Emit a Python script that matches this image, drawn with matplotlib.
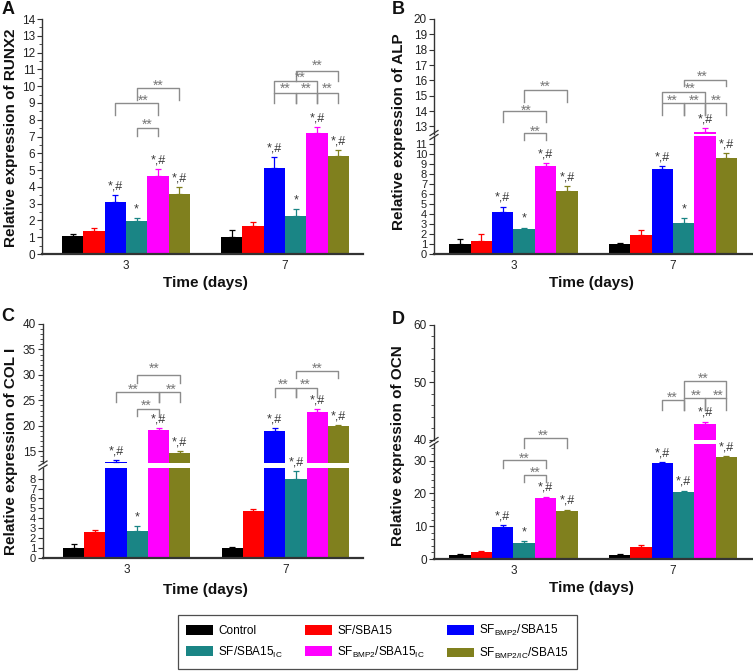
import matplotlib
matplotlib.use('Agg')
import matplotlib.pyplot as plt
from matplotlib.patches import Patch
from matplotlib.lines import Line2D
from matplotlib.ticker import MultipleLocator, FixedLocator

plt.rcParams['font.family'] = ['Liberation Sans', 'DejaVu Sans']
plt.rcParams['mathtext.fontset'] = 'custom'
plt.rcParams['mathtext.rm'] = 'Liberation Sans'
plt.rcParams['mathtext.it'] = 'Liberation Sans'

W, H = 753, 671
fig = plt.figure(figsize=(W / 100, H / 100), dpi=100)

# ---------------- data ----------------
groups = ['3', '7']
series = ['Control', 'SF/SBA15', r'SF$_{\mathregular{BMP2}}$/SBA15',
          r'SF/SBA15$_{\mathregular{IC}}$',
          r'SF$_{\mathregular{BMP2}}$/SBA15$_{\mathregular{IC}}$',
          r'SF$_{\mathregular{BMP2/IC}}$/SBA15']
colors = ['#000000', '#ff0000', '#0000ff', '#1a8585', '#ff00ff', '#80801e']

runx2_day3 = [1.05, 1.37, 3.08, 1.99, 4.67, 3.56]
runx2_err3 = [0.12, 0.16, 0.44, 0.14, 0.38, 0.42]
runx2_day7 = [1.03, 1.67, 5.15, 2.29, 7.22, 5.86]
runx2_err7 = [0.40, 0.26, 0.62, 0.37, 0.33, 0.34]
runx2_sig3 = ['', '', '*,#', '*', '*,#', '*,#']
runx2_sig7 = ['', '', '*,#', '*', '*,#', '*,#']

alp_day3 = [1.0, 1.33, 4.17, 2.47, 8.85, 6.3]
alp_err3 = [0.5, 0.67, 0.56, 0.16, 0.25, 0.5]
alp_day7 = [1.0, 1.9, 8.5, 3.07, 12.6, 9.57]
alp_err7 = [0.1, 0.5, 0.3, 0.5, 0.3, 0.55]
alp_sig3 = ['', '', '*,#', '*', '*,#', '*,#']
alp_sig7 = ['', '', '*,#', '*', '*,#', '*,#']

col_day3 = [1.0, 2.6, 12.9, 2.7, 19.1, 14.6]
col_err3 = [0.4, 0.25, 0.4, 0.5, 0.5, 0.4]
col_day7 = [1.0, 4.7, 19.05, 8.0, 22.7, 19.9]
col_err7 = [0.1, 0.24, 0.5, 0.74, 0.6, 0.3]
col_sig3 = ['', '', '*,#', '*', '*,#', '*,#']
col_sig7 = ['', '', '*,#', '*,#', '*,#', '*,#']

ocn_day3 = [1.3, 2.0, 9.9, 5.0, 18.5, 14.5]
ocn_err3 = [0.3, 0.4, 0.4, 0.4, 0.5, 0.6]
ocn_day7 = [1.2, 3.8, 29.2, 20.5, 42.8, 31.0]
ocn_err7 = [0.2, 0.5, 0.4, 0.4, 0.4, 0.3]
ocn_sig3 = ['', '', '*,#', '*', '*,#', '*,#']
ocn_sig7 = ['', '', '*,#', '*,#', '*,#', '*,#']

# significance brackets: (group, bar_a, bar_b, y_line, y_leg_end)
runx2_brk = [(0, 3, 4, 7.5, 7.05), (0, 2, 4, 8.99, 8.3), (0, 3, 5, 9.88, 9.2),
             (1, 3, 5, 10.93, 10.3), (1, 2, 4, 10.28, 9.6),
             (1, 2, 3, 9.58, 9.0), (1, 3, 4, 9.58, 9.0), (1, 4, 5, 9.58, 9.0)]
runx2_txt = [(0, 3.5, 7.95), (0, 3.3, 9.38), (0, 4.0, 10.28),
             (1, 4.0, 11.47), (1, 3.2, 10.73), (1, 2.5, 10.08), (1, 3.5, 10.08), (1, 4.5, 10.08)]

alp_brk = [(0, 3, 4, 12.55, 12.13), (0, 2, 4, 13.97, 13.3), (0, 3, 5, 15.38, 14.6),
           (1, 3, 5, 15.99, 15.6), (1, 2, 4, 15.27, 14.6),
           (1, 2, 3, 14.5, 13.75), (1, 3, 4, 14.5, 13.75), (1, 4, 5, 14.5, 13.75)]
alp_txt = [(0, 3.5, 12.9), (0, 3.1, 14.3), (0, 4.0, 15.82),
           (1, 3.85, 16.5), (1, 3.3, 15.75), (1, 2.45, 14.97), (1, 3.5, 14.97), (1, 4.5, 14.97)]

col_brk = [(0, 3, 5, 30.0, 28.4), (0, 2, 4, 26.6, 24.6), (0, 4, 5, 26.6, 24.6),
           (0, 3, 4, 23.3, 22.0),
           (1, 3, 5, 30.8, 29.4), (1, 2, 3, 27.5, 25.6), (1, 3, 4, 27.5, 25.6)]
col_txt = [(0, 3.8, 32.0), (0, 2.8, 27.9), (0, 4.6, 27.9), (0, 3.4, 24.7),
           (1, 4.0, 32.0), (1, 2.4, 28.9), (1, 3.45, 28.9)]

ocn_brk = [(0, 3, 5, 40.4, 38.6), (0, 2, 4, 30.2, 27.7), (0, 3, 4, 25.6, 23.6),
           (1, 3, 5, 50.3, 47.3), (1, 2, 3, 47.0, 45.3), (1, 3, 4, 47.3, 45.3), (1, 4, 5, 47.3, 45.3)]
ocn_txt = [(0, 3.9, 41.4), (0, 3.0, 32.0), (0, 3.5, 27.5),
           (1, 3.9, 51.3), (1, 2.45, 48.1), (1, 3.6, 48.4), (1, 4.6, 48.4)]

# ---------------- helpers ----------------
BW = 0.134
GRAY = '#8c8c8c'
SPINE = '#333333'


def bar_x(g, i):
    return g + (i - 2.5) * BW


def px_rect(l, r, t, b):
    return [l / W, 1 - b / H, (r - l) / W, (b - t) / H]


def make_panel(xl, xr, xlim, segs, d3, e3, d7, e7, s3, s7, brk, txt):
    # segs from bottom to top: (ylim, top_px, bot_px, major, minor, fixed, labelsize)
    axes = []
    for k, (ylim, t, b, major, minor, fixed, lsz) in enumerate(segs):
        ax = fig.add_axes(px_rect(xl, xr, t, b))
        ax.set_xlim(*xlim)
        ax.set_ylim(*ylim)
        ax.patch.set_alpha(0)
        for sp in ['top', 'right']:
            ax.spines[sp].set_visible(False)
        ax.spines['left'].set_color(SPINE)
        ax.spines['left'].set_linewidth(1.0)
        if fixed is not None:
            ax.yaxis.set_major_locator(FixedLocator(fixed))
        else:
            ax.yaxis.set_major_locator(MultipleLocator(major))
        if minor:
            ax.yaxis.set_minor_locator(MultipleLocator(minor))
        ax.tick_params(axis='y', which='major', direction='out', length=3.5, width=0.8,
                       color=SPINE, labelsize=lsz, pad=1.5, labelcolor='#222222')
        ax.tick_params(axis='y', which='minor', direction='out', length=2, width=0.6, color=SPINE)
        if k == 0:
            ax.spines['bottom'].set_color(SPINE)
            ax.spines['bottom'].set_linewidth(1.6)
            ax.set_xticks([0, 1], groups)
            ax.tick_params(axis='x', length=0, labelsize=8.5, pad=4, labelcolor='#222222')
        else:
            ax.spines['bottom'].set_visible(False)
            ax.set_xticks([])
        for i in range(6):
            xs = [bar_x(0, i), bar_x(1, i)]
            ys = [d3[i], d7[i]]
            es = [e3[i], e7[i]]
            ax.bar(xs, ys, width=BW, color=colors[i], linewidth=0, zorder=2)
            ax.errorbar(xs, ys, yerr=[[0, 0], es], fmt='none', ecolor=colors[i],
                        elinewidth=0.9, capsize=2.5, capthick=0.9, zorder=3)
        axes.append(ax)

    def pick(y):
        for ax in axes:
            lo, hi = ax.get_ylim()
            if lo <= y <= hi:
                return ax
        best = min(axes, key=lambda a: min(abs(a.get_ylim()[0] - y), abs(a.get_ylim()[1] - y)))
        return best

    for g, (dd, ee, ss) in enumerate([(d3, e3, s3), (d7, e7, s7)]):
        for i in range(6):
            if ss[i]:
                top = dd[i] + ee[i]
                ax = pick(top)
                ax.annotate(ss[i], (bar_x(g, i), top), xytext=(0, 2.0), textcoords='offset points',
                            ha='center', va='bottom', fontsize=9, color='#3a3a3a',
                            annotation_clip=False, zorder=5)
    for (g, a, b, y, yb) in brk:
        ax = pick(y)
        xa, xb = bar_x(g, a), bar_x(g, b)
        ax.plot([xa, xa, xb, xb], [yb, y, y, yb], color=GRAY, lw=1.0, clip_on=False, zorder=4)
    for (g, xp, y) in txt:
        ax = pick(y)
        ax.annotate('**', (g + (xp - 2.5) * BW, y), xytext=(0, -3), textcoords='offset points',
                    ha='center', va='center', fontsize=10, color='#777777',
                    annotation_clip=False, zorder=5)
    # break marks
    if len(axes) > 1:
        lo_top = axes[0].get_position().y1
        up_bot = axes[1].get_position().y0
        gy = (lo_top + up_bot) / 2
        x0 = xl / W
        for dy in (-2.0, 2.0):
            fig.add_artist(Line2D([x0 - 4 / W, x0 + 4 / W],
                                  [gy + (dy - 2.5) / H, gy + (dy + 2.5) / H],
                                  color=SPINE, lw=0.9))
    return axes


# Panel A
make_panel(42, 363, (-0.528, 1.49),
           [((0, 14), 19, 254, 1, 0.5, None, 8.5)],
           runx2_day3, runx2_err3, runx2_day7, runx2_err7, runx2_sig3, runx2_sig7,
           runx2_brk, runx2_txt)
# Panel B
make_panel(434, 752, (-0.498, 1.495),
           [((0, 11.8), 136, 254, 1, None, list(range(0, 12)), 8),
            ((12.5, 20), 19, 134, 1, None, list(range(13, 21)), 8.5)],
           alp_day3, alp_err3, alp_day7, alp_err7, alp_sig3, alp_sig7,
           alp_brk, alp_txt)
# Panel C
make_panel(43, 363, (-0.528, 1.49),
           [((0, 9.07), 468, 558, 1, None, list(range(0, 9)), 8),
            ((12.7, 40), 324, 463, 5, 1, None, 8.5)],
           col_day3, col_err3, col_day7, col_err7, col_sig3, col_sig7,
           col_brk, col_txt)
# Panel D
make_panel(434, 752, (-0.498, 1.495),
           [((0, 35.1), 444, 559, 10, 2, None, 8.5),
            ((40, 60), 325, 440, 10, 2, None, 8.5)],
           ocn_day3, ocn_err3, ocn_day7, ocn_err7, ocn_sig3, ocn_sig7,
           ocn_brk, ocn_txt)

# labels
ylabels = [('Relative expression of RUNX2', 11, 138), ('Relative expression of ALP', 398.5, 132),
           ('Relative expression of COL I', 11, 451), ('Relative expression of OCN', 398, 446)]
for s, x, y in ylabels:
    fig.text(x / W, 1 - y / H, s, rotation=90, ha='center', va='center',
             fontsize=11, fontweight='bold', color='#111111')
for x, y in [(205, 283), (591, 283), (205, 590), (591, 588)]:
    fig.text(x / W, 1 - y / H, 'Time (days)', ha='center', va='center',
             fontsize=11, fontweight='bold', color='#111111')
for s, x, y in [('A', 8, 9), ('B', 398, 9), ('C', 8, 317), ('D', 398, 320)]:
    fig.text(x / W, 1 - y / H, s, ha='center', va='center', fontsize=13,
             fontweight='bold', color='#111111')

# legend
order = [0, 3, 1, 4, 2, 5]
handles = [Patch(facecolor=colors[i], edgecolor='none') for i in order]
labels = [series[i] for i in order]
leg = fig.legend(handles, labels, ncol=3, loc='center', bbox_to_anchor=(377.5 / W, 1 - 642 / H),
                 fontsize=8.5, frameon=True, fancybox=False, edgecolor='#222222',
                 handlelength=2.3, handleheight=0.9, handletextpad=0.4,
                 columnspacing=1.9, borderpad=0.7, labelspacing=0.6)
leg.get_frame().set_linewidth(0.9)

fig.savefig('out.png', dpi=100)
